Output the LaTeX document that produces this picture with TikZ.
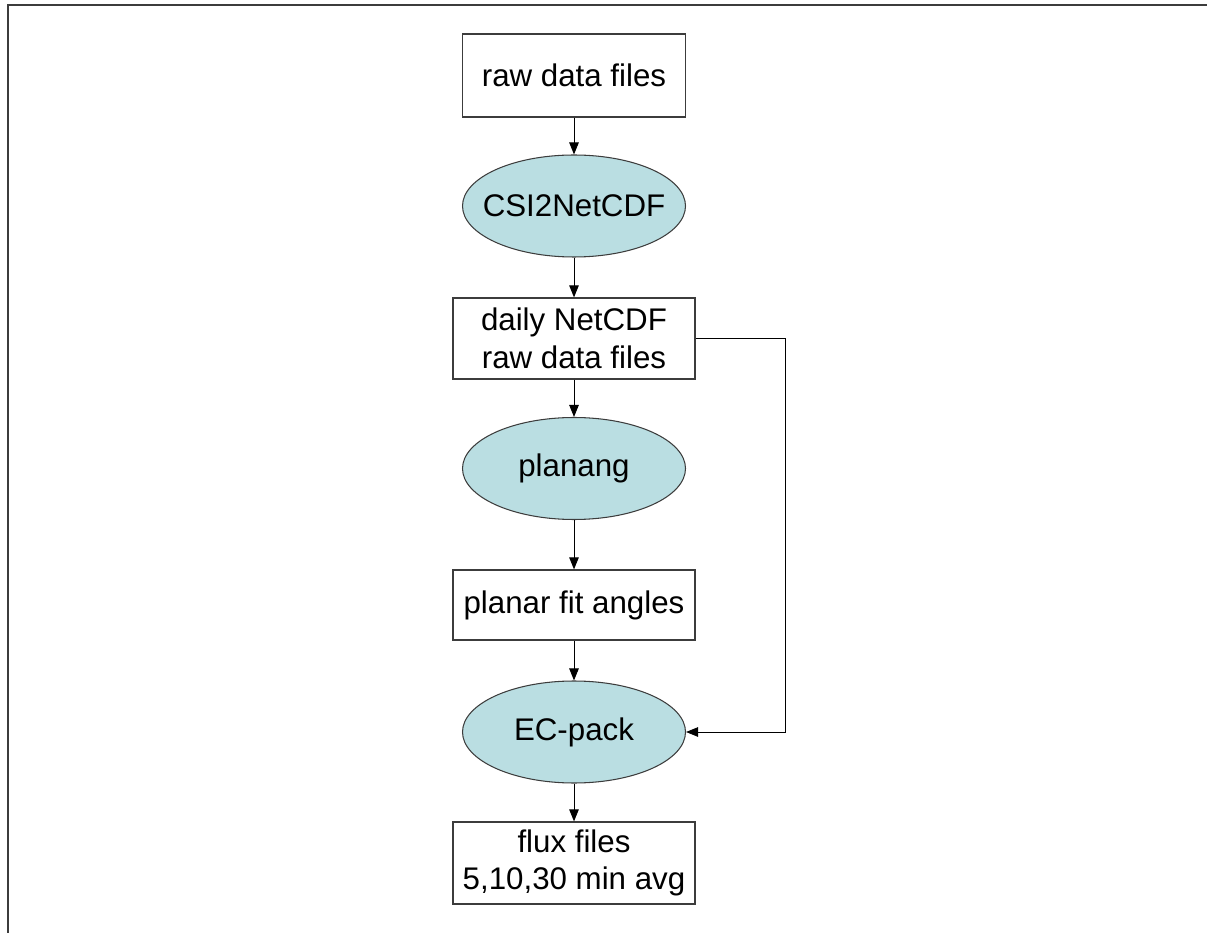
\documentclass[tikz,border=0pt]{standalone}
\usepackage{fontspec}
\setmainfont{Liberation Sans}
\usetikzlibrary{shapes.geometric,arrows.meta}
\definecolor{procfill}{RGB}{186,222,226}
\definecolor{edge}{RGB}{60,60,60}
\tikzstyle{file} = [rectangle, draw=edge, line width=0.7pt, inner sep=0pt, align=center, minimum width=4.84cm, font=\fontsize{17.8}{21.5}\selectfont]
\tikzstyle{proc} = [ellipse, draw=edge, line width=0.6pt, fill=procfill, inner ysep=0pt, inner xsep=-0.3cm, minimum width=4.46cm, minimum height=2.04cm, font=\fontsize{17.8}{21.5}\selectfont]
\tikzstyle{flow} = [-{Triangle[length=0.24cm,width=0.19cm]}, line width=0.55pt, black]

\begin{document}
\begin{tikzpicture}
\useasboundingbox (0,0) rectangle (24.14,-18.66);
\draw[edge, line width=1.2pt] (24.14,-0.1) -- (0.16,-0.1) -- (0.16,-18.66);

\node[file, minimum width=4.46cm, minimum height=1.66cm] (raw) at (11.48,-1.51) {raw data files};
\node[proc] (csi) at (11.48,-4.12) {CSI2NetCDF};
\node[file, minimum height=1.62cm] (daily) at (11.48,-6.77) {daily NetCDF\\raw data files};
\node[proc] (planang) at (11.48,-9.37) {planang};
\node[file, minimum height=1.4cm] (angles) at (11.48,-12.10) {planar fit angles};
\node[proc] (ecpack) at (11.48,-14.64) {EC-pack};
\node[file, minimum height=1.64cm] (flux) at (11.48,-17.26) {flux files\\5,10,30 min avg};

\draw[flow] (raw) -- (csi);
\draw[flow] (csi) -- (daily);
\draw[flow] (daily) -- (planang);
\draw[flow] (planang) -- (angles);
\draw[flow] (angles) -- (ecpack);
\draw[flow] (ecpack) -- (flux);
\draw[flow] (daily.east) -| (15.7,-14.64) -- (ecpack.east);
\end{tikzpicture}
\end{document}
